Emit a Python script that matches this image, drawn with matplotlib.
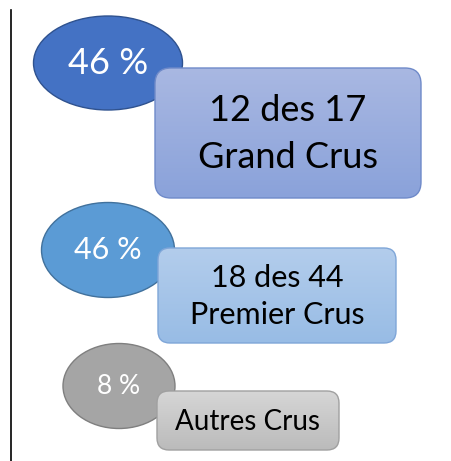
import numpy as np
import matplotlib
matplotlib.use("Agg")
import matplotlib.pyplot as plt
from matplotlib.patches import Ellipse, FancyBboxPatch
from matplotlib.colors import LinearSegmentedColormap

# données
shares = [46, 46, 8]
labels = ["12 des 17\nGrand Crus", "18 des 44\nPremier Crus", "Autres Crus"]

# mise en page (pixels, y vers le bas)
ellipses = [(108, 63, 149, 94), (108, 250, 133, 95), (119, 386, 112, 85)]
boxes = [(155, 68, 266, 130), (158, 248, 238, 95), (157, 391, 182, 59)]
ell_colors = ["#4472C4", "#5B9BD5", "#A5A5A5"]
ell_edges = ["#2F528F", "#41719C", "#7F7F7F"]
box_grad = [("#A9B8E2", "#8AA2DA"), ("#B3CDEC", "#98BCE5"), ("#D6D6D6", "#BBBBBB")]
box_edges = ["#6F8AC9", "#7FA6D8", "#A0A0A0"]
pct_sizes = [26, 22, 19]
box_sizes = [26, 22, 20]
spacing = [1.5, 1.38, 1.0]

plt.rcParams["font.family"] = ["Lato", "DejaVu Sans"]

fig = plt.figure(figsize=(4.52, 4.61), dpi=100)
ax = fig.add_axes([0, 0, 1, 1])
ax.set_xlim(0, 452)
ax.set_ylim(461, 0)
ax.axis("off")

ax.plot([11, 11], [10, 461], color="black", lw=1.2)

for i, share in enumerate(shares):
    cx, cy, w, h = ellipses[i]
    ax.add_patch(Ellipse((cx, cy), w, h, facecolor=ell_colors[i],
                         edgecolor=ell_edges[i], lw=1, zorder=2))
    ax.text(cx, cy, f"{share} %", color="white", fontsize=pct_sizes[i],
            ha="center", va="center", zorder=3)

    x, y, bw, bh = boxes[i]
    r = 16 if i == 0 else 12
    box = FancyBboxPatch((x + r, y + r), bw - 2 * r, bh - 2 * r,
                         boxstyle=f"round,pad={r}", facecolor="none",
                         edgecolor=box_edges[i], lw=1, zorder=5)
    ax.add_patch(box)
    cmap = LinearSegmentedColormap.from_list("g", box_grad[i])
    grad = np.linspace(0, 1, 100).reshape(-1, 1)
    im = ax.imshow(grad, cmap=cmap, extent=(x, x + bw, y + bh, y),
                   aspect="auto", zorder=4)
    im.set_clip_path(box)
    ax.text(x + bw / 2, y + bh / 2 + 1, labels[i], color="black",
            fontsize=box_sizes[i], ha="center", va="center",
            linespacing=spacing[i], zorder=6)

fig.savefig("out.png", dpi=100)
